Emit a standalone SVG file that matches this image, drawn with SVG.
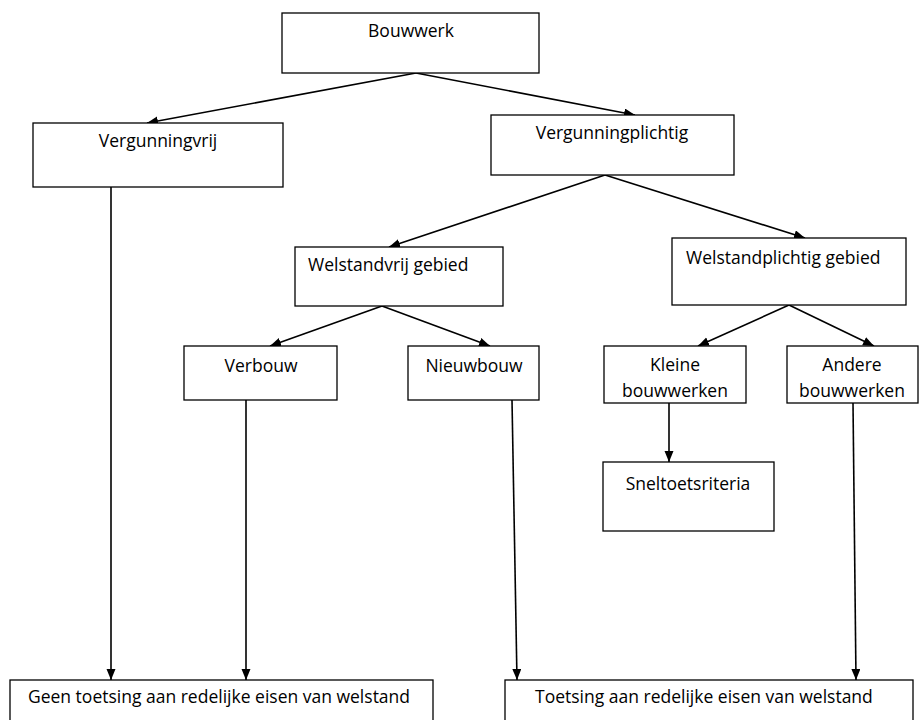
<svg xmlns="http://www.w3.org/2000/svg" width="920" height="720" viewBox="0 0 920 720">
<style>
.box{fill:#fff;stroke:#000;stroke-width:1.3}
.t{font-family:"Open Sans","Liberation Sans",sans-serif;font-size:17.5px;fill:#000}
.c{text-anchor:middle}
.ln{stroke:#000;stroke-width:1.6;fill:none;marker-end:url(#ah)}
</style>
<defs>
<marker id="ah" markerUnits="userSpaceOnUse" markerWidth="12" markerHeight="10" refX="11" refY="4.5" orient="auto">
<path d="M0,0 L11,4.5 L0,9 z" fill="#000"/>
</marker>
</defs>
<rect width="920" height="720" fill="#fff"/>
<g id="connectors">
<line class="ln" x1="416" y1="73" x2="147" y2="123"/>
<line class="ln" x1="416" y1="73" x2="635" y2="115"/>
<line class="ln" x1="605" y1="175" x2="389" y2="247"/>
<line class="ln" x1="605" y1="175" x2="805" y2="238"/>
<line class="ln" x1="382" y1="306" x2="270" y2="346"/>
<line class="ln" x1="382" y1="306" x2="490" y2="346"/>
<line class="ln" x1="789" y1="305" x2="698" y2="346"/>
<line class="ln" x1="789" y1="305" x2="874" y2="346"/>
<line class="ln" x1="669" y1="403" x2="669" y2="462"/>
<line class="ln" x1="111" y1="187" x2="111" y2="680"/>
<line class="ln" x1="246" y1="400" x2="246" y2="680"/>
<line class="ln" x1="512" y1="400" x2="517" y2="680"/>
<line class="ln" x1="853" y1="403" x2="856" y2="680"/>
</g>
<g id="bouwwerk"><rect class="box" x="282" y="13" width="257" height="60"/><text class="t c" x="411" y="37">Bouwwerk</text></g>
<g id="vergunningvrij"><rect class="box" x="33" y="123" width="250" height="64"/><text class="t c" x="158" y="147">Vergunningvrij</text></g>
<g id="vergunningplichtig"><rect class="box" x="491" y="115" width="243" height="60"/><text class="t c" x="612" y="139">Vergunningplichtig</text></g>
<g id="welstandvrij"><rect class="box" x="295" y="247" width="208" height="59"/><text class="t" x="308" y="271">Welstandvrij gebied</text></g>
<g id="welstandplichtig"><rect class="box" x="672" y="238" width="234" height="67"/><text class="t" x="686" y="264">Welstandplichtig gebied</text></g>
<g id="verbouw"><rect class="box" x="184" y="346" width="153" height="54"/><text class="t c" x="261" y="372">Verbouw</text></g>
<g id="nieuwbouw"><rect class="box" x="408" y="346" width="131" height="54"/><text class="t c" x="474" y="372">Nieuwbouw</text></g>
<g id="kleine"><rect class="box" x="604" y="346" width="142" height="57"/><text class="t c" x="675" y="371">Kleine</text><text class="t c" x="675" y="397">bouwwerken</text></g>
<g id="andere"><rect class="box" x="787" y="346" width="131" height="57"/><text class="t c" x="852" y="371">Andere</text><text class="t c" x="852" y="397">bouwwerken</text></g>
<g id="sneltoets"><rect class="box" x="603" y="462" width="171" height="69"/><text class="t c" x="688" y="490">Sneltoetsriteria</text></g>
<g id="geen"><rect class="box" x="10" y="680" width="423" height="50"/><text class="t c" x="219" y="703">Geen toetsing aan redelijke eisen van welstand</text></g>
<g id="toetsing"><rect class="box" x="505" y="680" width="408" height="50"/><text class="t" x="535" y="703">Toetsing aan redelijke eisen van welstand</text></g>
</svg>
